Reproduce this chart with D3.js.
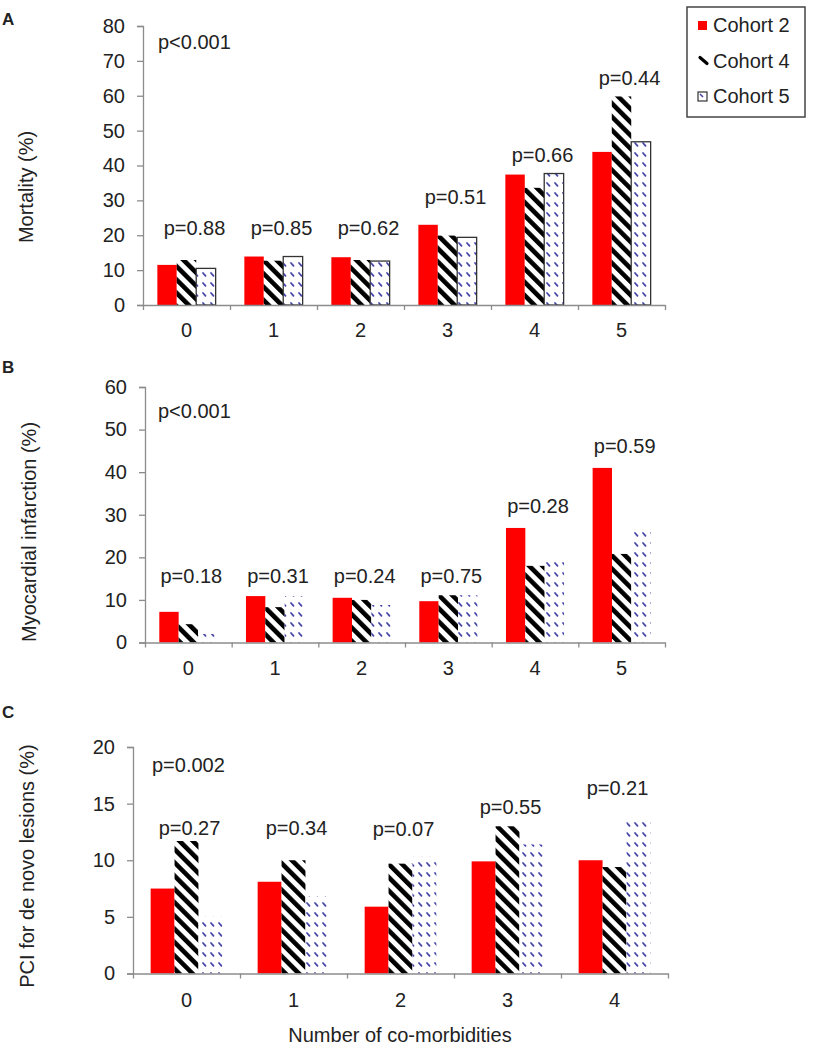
<!DOCTYPE html>
<html>
<head>
<meta charset="utf-8">
<script src="https://cdn.jsdelivr.net/npm/d3@7"></script>
<style>
  html, body { margin: 0; padding: 0; background: #fff; }
  svg { display: block; }
  text { font-family: "Liberation Sans", Arial, sans-serif; fill: #222; }
</style>
</head>
<body>
<svg id="chart" width="816" height="1050"></svg>
<script>
// ---------- DATA ----------
const series = ["Cohort 2", "Cohort 4", "Cohort 5"];
const categoriesAB = ["0", "1", "2", "3", "4", "5"];
const categoriesC = ["0", "1", "2", "3", "4"];

const mortalityCohort2 = [11.5, 13.9, 13.7, 23.0, 37.4, 43.9];
const mortalityCohort4 = [12.9, 12.7, 12.9, 19.9, 33.6, 59.8];
const mortalityCohort5 = [10.5, 13.9, 12.6, 19.4, 37.7, 46.8];
const mortalityP = ["p=0.88", "p=0.85", "p=0.62", "p=0.51", "p=0.66", "p=0.44"];
const mortalityPLevel = [20, 20, 20, 29, 41, 63];

const miCohort2 = [7.2, 10.9, 10.5, 9.7, 26.9, 41.0];
const miCohort4 = [4.3, 8.3, 10.0, 11.1, 18.0, 20.8];
const miCohort5 = [2.0, 10.9, 8.8, 11.1, 19.2, 26.5];
const miP = ["p=0.18", "p=0.31", "p=0.24", "p=0.75", "p=0.28", "p=0.59"];
const miPLevel = [13.9, 13.9, 13.9, 13.9, 30.3, 44.4];

const pciCohort2 = [7.5, 8.1, 5.9, 9.9, 10.0];
const pciCohort4 = [11.7, 10.0, 9.7, 13.0, 9.4];
const pciCohort5 = [5.0, 6.8, 10.3, 11.4, 13.5];
const pciP = ["p=0.27", "p=0.34", "p=0.07", "p=0.55", "p=0.21"];
const pciPLevel = [12.2, 12.2, 12.1, 14.1, 15.8];

const overallP = ["p<0.001", "p<0.001", "p=0.002"];
const overallPLevel = [73.4, 52.8, 17.8];

const yTicksA = [0, 10, 20, 30, 40, 50, 60, 70, 80];
const yTicksB = [0, 10, 20, 30, 40, 50, 60];
const yTicksC = [0, 5, 10, 15, 20];

const yTitles = ["Mortality (%)", "Myocardial infarction (%)", "PCI for de novo lesions (%)"];
const panelLetters = ["A", "B", "C"];
const xTitle = "Number of co-morbidities";

// ---------- SETUP ----------
const svg = d3.select("#chart");
const FONT = 20;
const AXIS_COLOR = "#8c8c8c";
const RED = "#ff0000";
const DOT = "#4646aa";

const defs = svg.append("defs");
// diagonal stripes (Cohort 4)
const stripes = defs.append("pattern")
  .attr("id", "stripes").attr("patternUnits", "userSpaceOnUse")
  .attr("width", 9.4).attr("height", 9.4)
  .attr("patternTransform", "rotate(-45)");
stripes.append("rect").attr("width", 9.4).attr("height", 9.4).attr("fill", "#fff");
stripes.append("rect").attr("width", 4.6).attr("height", 9.4).attr("fill", "#000");
// small blue dashes (Cohort 5)
const dots = defs.append("pattern")
  .attr("id", "dots").attr("patternUnits", "userSpaceOnUse")
  .attr("width", 8).attr("height", 10);
dots.append("rect").attr("width", 8).attr("height", 10).attr("fill", "#fff");
dots.append("line").attr("x1", 3).attr("y1", 3).attr("x2", 5.5).attr("y2", 5.8)
  .attr("stroke", DOT).attr("stroke-width", 1.8).attr("stroke-linecap", "round");

const fills = d3.scaleOrdinal().domain(series).range([RED, "url(#stripes)", "url(#dots)"]);

// ---------- PANEL LAYOUTS ----------
const panels = [
  { cats: categoriesAB, values: [mortalityCohort2, mortalityCohort4, mortalityCohort5],
    pLabels: mortalityP, pLevel: mortalityPLevel, max: 80, ticks: yTicksA,
    x0: 143, x1: 665, yTop: 26, yBot: 305, outline5: true,
    letter: { x: 2, y: 25 }, yTitle: { x: 33, y: 187 }, xLabY: 337, pDx: 8, overallX: 158 },
  { cats: categoriesAB, values: [miCohort2, miCohort4, miCohort5],
    pLabels: miP, pLevel: miPLevel, max: 60, ticks: yTicksB,
    x0: 145, x1: 665, yTop: 387, yBot: 642.5, outline5: false,
    letter: { x: 2, y: 373 }, yTitle: { x: 36, y: 532 }, xLabY: 675, pDx: 3, overallX: 158 },
  { cats: categoriesC, values: [pciCohort2, pciCohort4, pciCohort5],
    pLabels: pciP, pLevel: pciPLevel, max: 20, ticks: yTicksC,
    x0: 133, x1: 668, yTop: 747, yBot: 973.5, outline5: false,
    letter: { x: 2, y: 718 }, yTitle: { x: 34, y: 866 }, xLabY: 1007, pDx: 3, overallX: 152 }
];

panels.forEach((p, pi) => {
  const g = svg.append("g");
  const x = d3.scaleBand().domain(p.cats).range([p.x0, p.x1]).paddingInner(0.33).paddingOuter(0.165);
  const xs = d3.scaleBand().domain(series).range([0, x.bandwidth()]);
  const y = d3.scaleLinear().domain([0, p.max]).range([p.yBot, p.yTop]);
  const xEdge = d3.scaleLinear().domain([0, p.cats.length]).range([p.x0, p.x1]);

  // bars
  series.forEach((s, si) => {
    g.append("g").selectAll("rect")
      .data(p.values[si])
      .join("rect")
      .attr("x", (d, i) => x(p.cats[i]) + xs(s))
      .attr("y", d => y(d))
      .attr("width", xs.bandwidth())
      .attr("height", d => y(0) - y(d))
      .attr("fill", fills(s))
      .attr("stroke", (si === 2 && p.outline5) ? "#333" : "none")
      .attr("stroke-width", 1.3);
  });

  // y axis
  const ya = g.append("g").attr("transform", `translate(${p.x0},0)`)
    .call(d3.axisLeft(y).tickValues(p.ticks).tickSize(6).tickPadding(12).tickFormat(d3.format("d")));
  ya.select(".domain").attr("stroke", AXIS_COLOR).attr("stroke-width", 1.3);
  ya.selectAll(".tick line").attr("stroke", AXIS_COLOR).attr("stroke-width", 1.3);
  ya.selectAll(".tick text").attr("font-size", FONT).attr("fill", "#222")
    .attr("font-family", "Liberation Sans, Arial, sans-serif");

  // x axis (boundary ticks)
  const xa = g.append("g").attr("transform", `translate(0,${p.yBot})`)
    .call(d3.axisBottom(xEdge).tickValues(d3.range(p.cats.length + 1)).tickSize(5).tickSizeOuter(0).tickFormat(""));
  xa.select(".domain").attr("stroke", AXIS_COLOR).attr("stroke-width", 1.3);
  xa.selectAll(".tick line").attr("stroke", AXIS_COLOR).attr("stroke-width", 1.3);

  // x category labels
  g.append("g").selectAll("text").data(p.cats).join("text")
    .attr("x", d => x(d) + x.bandwidth() / 2)
    .attr("y", p.xLabY)
    .attr("text-anchor", "middle")
    .attr("font-size", FONT)
    .text(d => d);

  // p-values per category
  g.append("g").selectAll("text").data(p.pLabels).join("text")
    .attr("x", (d, i) => x(p.cats[i]) + x.bandwidth() / 2 + p.pDx)
    .attr("y", (d, i) => y(p.pLevel[i]))
    .attr("text-anchor", "middle")
    .attr("font-size", FONT)
    .text(d => d);

  // overall p
  g.append("text")
    .attr("x", p.overallX)
    .attr("y", y(overallPLevel[pi]))
    .attr("font-size", FONT)
    .text(overallP[pi]);

  // y title
  g.append("text")
    .attr("transform", `translate(${p.yTitle.x},${p.yTitle.y}) rotate(-90)`)
    .attr("text-anchor", "middle")
    .attr("font-size", FONT)
    .text(yTitles[pi]);

  // panel letter
  g.append("text")
    .attr("x", p.letter.x).attr("y", p.letter.y)
    .attr("font-size", 17).attr("font-weight", "bold")
    .text(panelLetters[pi]);
});

// x title
svg.append("text")
  .attr("x", 400).attr("y", 1042)
  .attr("text-anchor", "middle")
  .attr("font-size", FONT)
  .text(xTitle);

// ---------- LEGEND ----------
const legend = svg.append("g");
legend.append("rect")
  .attr("x", 687).attr("y", 7).attr("width", 118).attr("height", 110)
  .attr("fill", "#fff").attr("stroke", "#444").attr("stroke-width", 1.5);
const ly = d3.scalePoint().domain(series).range([32, 103]);
series.forEach((s, i) => {
  const yy = ly(s);
  if (i === 0) {
    legend.append("rect").attr("x", 698).attr("y", yy - 11).attr("width", 9).attr("height", 9).attr("fill", RED);
  } else if (i === 1) {
    legend.append("line").attr("x1", 700).attr("y1", yy - 10).attr("x2", 707).attr("y2", yy - 4)
      .attr("stroke", "#000").attr("stroke-width", 3.2).attr("stroke-linecap", "round");
  } else {
    legend.append("rect").attr("x", 698).attr("y", yy - 11).attr("width", 9).attr("height", 9)
      .attr("fill", "#fff").attr("stroke", "#333").attr("stroke-width", 1.2);
    legend.append("line").attr("x1", 700).attr("y1", yy - 9).attr("x2", 703).attr("y2", yy - 6)
      .attr("stroke", DOT).attr("stroke-width", 1.6);
  }
  legend.append("text").attr("x", 713).attr("y", yy).attr("font-size", FONT).text(s);
});
</script>
</body>
</html>
